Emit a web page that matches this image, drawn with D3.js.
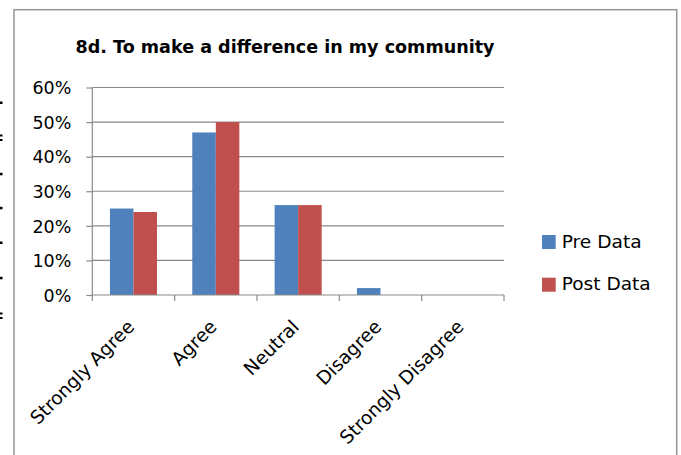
<!DOCTYPE html>
<html>
<head>
<meta charset="utf-8">
<script src="https://cdn.jsdelivr.net/npm/d3@7"></script>
<style>
  html, body { margin: 0; padding: 0; background: #fff; }
  svg { display: block; }
  text { font-family: "DejaVu Sans", sans-serif; fill: #000; }
</style>
</head>
<body>
<svg id="chart" width="681" height="455"></svg>
<script>
const title = "8d. To make a difference in my community";
const categories = ["Strongly Agree", "Agree", "Neutral", "Disagree", "Strongly Disagree"];
const seriesNames = ["Pre Data", "Post Data"];
const preData = [0.25, 0.47, 0.26, 0.02, 0];
const postData = [0.24, 0.50, 0.26, 0, 0];
const yTicks = [0, 0.1, 0.2, 0.3, 0.4, 0.5, 0.6];
const colors = ["#4F81BD", "#C0504D"];
const marginMarks = [102.7, 138, 174, 208, 242.7, 278, 316];
const doubleMarks = [138, 316];

const svg = d3.select("#chart");

// left-margin page artifacts
svg.selectAll("rect.mark").data(marginMarks).enter().append("rect")
  .attr("class", "mark")
  .attr("x", 0).attr("width", 2.5)
  .attr("y", d => doubleMarks.includes(d) ? d - 3.5 : d - 1.2)
  .attr("height", d => doubleMarks.includes(d) ? 2 : 2.5)
  .attr("fill", "#000");
svg.selectAll("rect.mark2").data(doubleMarks).enter().append("rect")
  .attr("x", 0).attr("width", 2.5)
  .attr("y", d => d + 1).attr("height", 2)
  .attr("fill", "#000");

// chart frame
svg.append("rect")
  .attr("x", 14).attr("y", 9.7).attr("width", 662.7).attr("height", 460)
  .attr("fill", "none").attr("stroke", "#959595").attr("stroke-width", 1.5);

const x0 = 92.3, x1 = 504, yTop = 87.5, yBot = 295;

const x = d3.scaleBand().domain(categories).range([x0, x1]).paddingInner(0).paddingOuter(0);
const y = d3.scaleLinear().domain([0, 0.6]).range([yBot, yTop]);

// gridlines
svg.append("g").selectAll("line").data(yTicks.filter(t => t > 0)).enter().append("line")
  .attr("x1", x0).attr("x2", x1)
  .attr("y1", d => y(d)).attr("y2", d => y(d))
  .attr("stroke", "#8a8a8a").attr("stroke-width", 1.2);

// bars
const bw = x.bandwidth() / 3.5;
const groups = svg.append("g");
const series = [preData, postData];
series.forEach((vals, si) => {
  groups.selectAll("rect.s" + si).data(categories).enter().append("rect")
    .attr("x", (c) => x(c) + x.bandwidth() / 2 - bw + si * bw)
    .attr("y", (c, i) => y(vals[i]))
    .attr("width", bw)
    .attr("height", (c, i) => yBot - y(vals[i]))
    .attr("fill", colors[si]);
});

// y axis
const yAxis = d3.axisLeft(y).tickValues(yTicks).tickFormat(d3.format(".0%")).tickSize(6).tickPadding(15);
const yg = svg.append("g").attr("transform", `translate(${x0},0)`).call(yAxis);
yg.select(".domain").attr("stroke", "#8a8a8a").attr("stroke-width", 1.2).attr("d", `M0,${yTop}V${yBot}`);
yg.selectAll(".tick line").attr("stroke", "#8a8a8a").attr("stroke-width", 1.2);
yg.selectAll(".tick text").attr("font-size", 17.5).attr("font-family", "DejaVu Sans").attr("fill", "#000").attr("dy", "0.36em");

// x axis
const xAxis = d3.axisBottom(x).tickSize(0).tickFormat("");
const xg = svg.append("g").attr("transform", `translate(0,${yBot})`).call(xAxis);
xg.select(".domain").attr("stroke", "#8a8a8a").attr("stroke-width", 1.2).attr("d", `M${x0},0H${x1}`);
const tickPos = categories.map(c => x(c)).concat([x1]);
xg.selectAll("line.tk").data(tickPos).enter().append("line")
  .attr("x1", d => d).attr("x2", d => d).attr("y1", 0).attr("y2", 6)
  .attr("stroke", "#8a8a8a").attr("stroke-width", 1.2);

svg.append("g").selectAll("text").data(categories).enter().append("text")
  .attr("transform", c => `translate(${x(c) + x.bandwidth() / 2 + 2},${328}) rotate(-45)`)
  .attr("text-anchor", "end")
  .attr("font-size", 18.6)
  .text(c => c);

// title
svg.append("text")
  .attr("x", 285).attr("y", 53)
  .attr("text-anchor", "middle")
  .attr("font-size", 17.5).attr("font-weight", "bold")
  .attr("textLength", 419).attr("lengthAdjust", "spacingAndGlyphs")
  .text(title);

// legend
const legendY = [235, 277.7];
const legendW = [80, 89];
seriesNames.forEach((s, i) => {
  svg.append("rect").attr("x", 542).attr("y", legendY[i]).attr("width", 13.7).attr("height", 14).attr("fill", colors[i]);
  svg.append("text").attr("x", 561.7).attr("y", legendY[i] + 12.5)
    .attr("font-size", 17.5)
    .attr("textLength", legendW[i]).attr("lengthAdjust", "spacingAndGlyphs")
    .text(s);
});
</script>
</body>
</html>
